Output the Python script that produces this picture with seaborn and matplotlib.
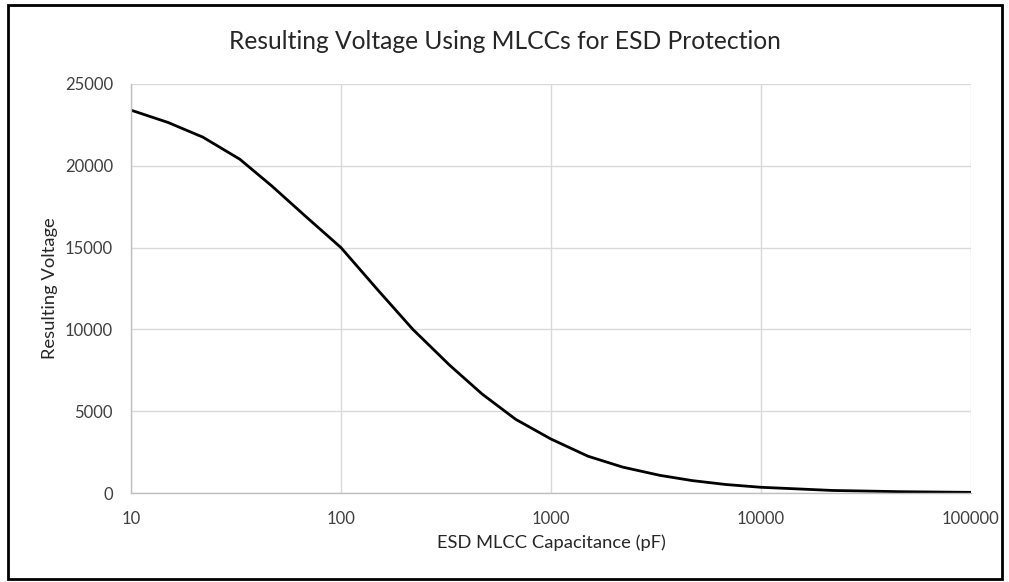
import matplotlib
matplotlib.use("Agg")
import matplotlib.pyplot as plt
import seaborn as sns
import pandas as pd
from matplotlib.patches import Rectangle

# values
capacitance_pf = [10, 15, 22, 33, 47, 68, 100, 150, 220, 330, 470, 680, 1000,
                  1500, 2200, 3300, 4700, 6800, 10000, 22000, 47000, 100000]
voltage = [23400, 22650, 21750, 20400, 18750, 16900, 15000, 12400, 10000, 7800,
           6050, 4500, 3300, 2250, 1580, 1080, 760, 520, 350, 155, 80, 40]

df = pd.DataFrame({"cap": capacitance_pf, "volt": voltage})

sns.set_style("white")
plt.rcParams["font.family"] = ["Lato", "DejaVu Sans"]

fig = plt.figure(figsize=(10.09, 5.82), dpi=100)
ax = fig.add_axes([0.1298, 0.1529, 0.8325, 0.7028])

sns.lineplot(data=df, x="cap", y="volt", color="black", linewidth=2.0, ax=ax)
ax.set_xscale("log")
ax.set_xlim(10, 100000)
ax.set_ylim(0, 25000)
ax.set_xticks([10, 100, 1000, 10000, 100000])
ax.set_xticklabels(["10", "100", "1000", "10000", "100000"])
ax.set_yticks(range(0, 25001, 5000))
ax.minorticks_off()

ax.grid(True, color="#d9d9d9", linewidth=1.0)
for side in ["top", "right"]:
    ax.spines[side].set_visible(False)
for side in ["left", "bottom"]:
    ax.spines[side].set_color("#bfbfbf")
    ax.spines[side].set_linewidth(1.0)
ax.tick_params(axis="both", length=0, labelsize=12, colors="#404040")
ax.tick_params(axis="x", pad=13)
ax.tick_params(axis="y", pad=13)

ax.set_xlabel("ESD MLCC Capacitance (pF)", fontsize=13.2, color="#262626", labelpad=5)
ax.set_ylabel("Resulting Voltage", fontsize=13.2, color="#262626", labelpad=5)
fig.suptitle("Resulting Voltage Using MLCCs for ESD Protection", fontsize=17.7,
             color="#262626", y=0.948)

# black frame around the chart
fig.patches.append(Rectangle((0.008, 0.006), 0.985, 0.985, transform=fig.transFigure,
                             fill=False, edgecolor="black", linewidth=2.0))

fig.savefig("out.png", dpi=100)
